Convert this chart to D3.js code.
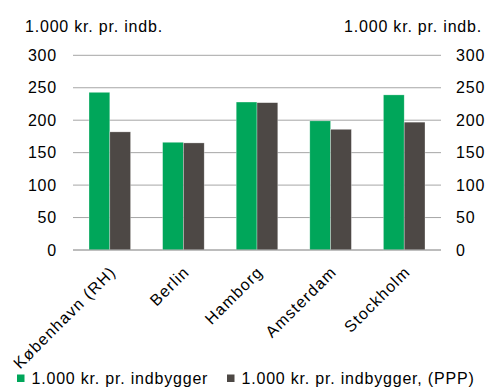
<!DOCTYPE html>
<html>
<head>
<meta charset="utf-8">
<script src="https://cdn.jsdelivr.net/npm/d3@7"></script>
<style>
  html, body { margin: 0; padding: 0; background: #fff; }
  svg { display: block; font-family: "Liberation Sans", Arial, sans-serif; }
</style>
</head>
<body>
<svg id="chart" width="486" height="387"></svg>
<script>
// Indkomst pr. indbygger i udvalgte storbyer
const categories = ["København (RH)", "Berlin", "Hamborg", "Amsterdam", "Stockholm"];
const seriesNames = ["1.000 kr. pr. indbygger", "1.000 kr. pr. indbygger, (PPP)"];
const perCapita = [243, 166, 228, 199, 239];
const perCapitaPPP = [182, 165, 227, 186, 197];
const yTicks = [0, 50, 100, 150, 200, 250, 300];
const axisTitle = "1.000 kr. pr. indb.";
const colors = ["#00A65A", "#4D4845"];

const rows = categories.map((c, i) => ({ cat: c, values: [perCapita[i], perCapitaPPP[i]] }));

const svg = d3.select("#chart");
const plotLeft = 73, plotRight = 441, plotTop = 55.3, plotBottom = 250;
const fontSize = 16, spacing = 0.8;
const fontFamily = "'Liberation Sans', Arial, sans-serif";

const x = d3.scaleBand().domain(categories).range([plotLeft, plotRight])
  .paddingInner(0.435).paddingOuter(0.2175);
const xs = d3.scaleBand().domain([0, 1]).range([0, x.bandwidth()]);
const y = d3.scaleLinear().domain([0, 300]).range([plotBottom, plotTop]);

// gridlines
svg.append("g").selectAll("line").data(yTicks).join("line")
  .attr("x1", plotLeft).attr("x2", plotRight)
  .attr("y1", d => y(d)).attr("y2", d => y(d))
  .attr("stroke", "#A6A6A6").attr("stroke-width", 1);

// bars
const groups = svg.append("g").selectAll("g").data(rows).join("g")
  .attr("transform", d => `translate(${x(d.cat)},0)`);
groups.selectAll("rect").data(d => d.values.map((v, k) => ({ v, k }))).join("rect")
  .attr("x", d => xs(d.k)).attr("width", xs.bandwidth())
  .attr("y", d => y(d.v)).attr("height", d => y(0) - y(d.v))
  .attr("fill", d => colors[d.k])
  .attr("stroke", "#ffffff").attr("stroke-opacity", 0.5).attr("stroke-width", 0.6);

// left and right value axes
const leftAxis = svg.append("g").attr("transform", `translate(${plotLeft},0)`)
  .call(d3.axisLeft(y).tickValues(yTicks).tickSize(0).tickPadding(16));
const rightAxis = svg.append("g").attr("transform", `translate(${plotRight},0)`)
  .call(d3.axisRight(y).tickValues(yTicks).tickSize(0).tickPadding(15));
[leftAxis, rightAxis].forEach(a => {
  a.select(".domain").remove();
  a.selectAll("text").attr("font-size", fontSize).attr("fill", "#000")
    .attr("font-family", fontFamily)
    .attr("letter-spacing", spacing);
});

// axis titles
svg.append("text").attr("x", 25).attr("y", 31.5)
  .attr("font-size", fontSize).attr("letter-spacing", spacing).text(axisTitle);
svg.append("text").attr("x", 482).attr("y", 31.5).attr("text-anchor", "end")
  .attr("font-size", fontSize).attr("letter-spacing", spacing).text(axisTitle);

// category labels
const xAxis = svg.append("g").attr("transform", `translate(0,${plotBottom})`)
  .call(d3.axisBottom(x).tickSize(0).tickPadding(0));
xAxis.select(".domain").remove();
xAxis.selectAll("text")
  .attr("font-size", fontSize).attr("letter-spacing", 1.2).attr("fill", "#000")
  .attr("font-family", fontFamily)
  .attr("text-anchor", "end")
  .attr("dy", null).attr("y", 0)
  .attr("transform", "translate(7,23) rotate(-45)");

// zero line drawn on top of bars
svg.append("line").attr("x1", plotLeft).attr("x2", plotRight)
  .attr("y1", y(0)).attr("y2", y(0)).attr("stroke", "#A6A6A6").attr("stroke-width", 1);

// legend
const legend = svg.append("g");
const legendPos = [{ sq: 17, tx: 31.5 }, { sq: 227, tx: 241.5 }];
seriesNames.forEach((name, k) => {
  legend.append("rect").attr("x", legendPos[k].sq).attr("y", 374.5)
    .attr("width", 7.5).attr("height", 7.5).attr("fill", colors[k]);
  legend.append("text").attr("x", legendPos[k].tx).attr("y", 383.5)
    .attr("font-size", fontSize).attr("letter-spacing", spacing).text(name);
});
</script>
</body>
</html>
